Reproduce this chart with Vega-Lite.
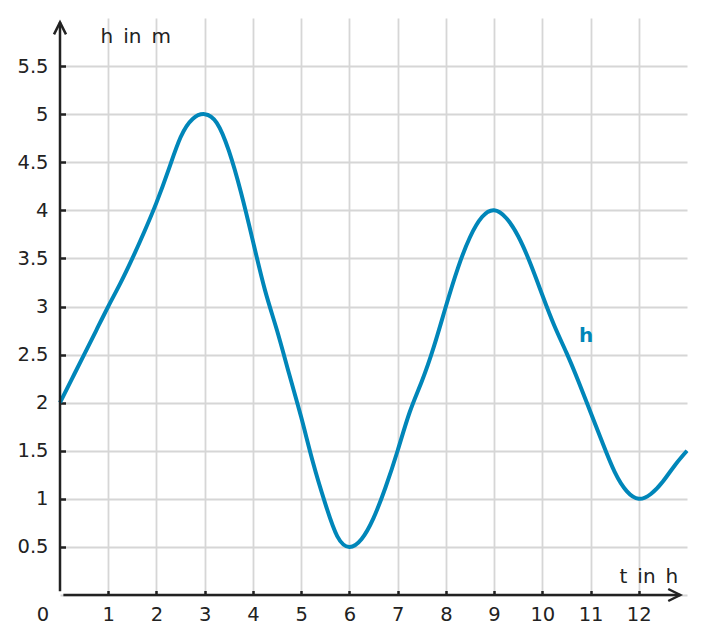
{
  "$schema": "https://vega.github.io/schema/vega-lite/v6.json",
  "width": 627,
  "height": 577,
  "autosize": {"type": "none"},
  "padding": {"left": 60, "top": 18, "right": 17, "bottom": 49},
  "background": "white",
  "config": {
    "view": {"stroke": null},
    "font": "DejaVu Sans"
  },
  "datasets": {
    "curve": [
      {"t": 0, "h": 2.0}, {"t": 0.25, "h": 2.25}, {"t": 0.5, "h": 2.5}, {"t": 0.75, "h": 2.75},
      {"t": 1, "h": 3.0}, {"t": 1.25, "h": 3.24}, {"t": 1.5, "h": 3.5}, {"t": 1.75, "h": 3.78},
      {"t": 2, "h": 4.08}, {"t": 2.25, "h": 4.42}, {"t": 2.5, "h": 4.76}, {"t": 2.75, "h": 4.95},
      {"t": 3, "h": 5.0}, {"t": 3.25, "h": 4.91}, {"t": 3.5, "h": 4.62}, {"t": 3.75, "h": 4.19},
      {"t": 4, "h": 3.68}, {"t": 4.25, "h": 3.17}, {"t": 4.5, "h": 2.75}, {"t": 4.75, "h": 2.3},
      {"t": 5, "h": 1.85}, {"t": 5.25, "h": 1.37}, {"t": 5.5, "h": 0.95}, {"t": 5.75, "h": 0.61},
      {"t": 6, "h": 0.5}, {"t": 6.25, "h": 0.58}, {"t": 6.5, "h": 0.8}, {"t": 6.75, "h": 1.12},
      {"t": 7, "h": 1.5}, {"t": 7.25, "h": 1.9}, {"t": 7.5, "h": 2.22}, {"t": 7.75, "h": 2.58},
      {"t": 8, "h": 3.0}, {"t": 8.25, "h": 3.4}, {"t": 8.5, "h": 3.72}, {"t": 8.75, "h": 3.93},
      {"t": 9, "h": 4.0}, {"t": 9.25, "h": 3.92}, {"t": 9.5, "h": 3.73}, {"t": 9.75, "h": 3.45},
      {"t": 10, "h": 3.12}, {"t": 10.25, "h": 2.8}, {"t": 10.5, "h": 2.52}, {"t": 10.75, "h": 2.22},
      {"t": 11, "h": 1.9}, {"t": 11.25, "h": 1.58}, {"t": 11.5, "h": 1.28}, {"t": 11.75, "h": 1.08},
      {"t": 12, "h": 1.0}, {"t": 12.25, "h": 1.05}, {"t": 12.5, "h": 1.18}, {"t": 12.75, "h": 1.35},
      {"t": 13, "h": 1.5}
    ],
    "axes": [
      {"t": 0.07, "t2": 12.86, "h": 0, "h2": 0},
      {"t": 0, "t2": 0, "h": 0.04, "h2": 5.955}
    ],
    "arrowX": [{"t": 12.86, "h": 0}],
    "arrowY": [{"t": 0, "h": 5.955}],
    "origin": [{"t": 0, "h": 0, "label": "0"}],
    "name": [{"t": 10.91, "h": 2.69, "label": "h"}]
  },
  "encoding": {
    "x": {
      "field": "t", "type": "quantitative",
      "scale": {"domain": [0, 13], "nice": false, "zero": false},
      "axis": {
        "values": [1, 2, 3, 4, 5, 6, 7, 8, 9, 10, 11, 12],
        "format": "d",
        "grid": true, "gridColor": "#d6d6d6", "gridWidth": 1.8,
        "domain": false,
        "ticks": true, "tickSize": -4.5, "tickColor": "#222222", "tickWidth": 2.5,
        "labelFont": "DejaVu Sans", "labelFontSize": 19.5, "labelColor": "#222222",
        "labelPadding": 15, "labelOverlap": false, "labelFlush": false, "labelBound": false,
        "title": "t\u2002in\u2002h", "titleFont": "DejaVu Sans", "titleFontSize": 20, "titleFontWeight": "normal",
        "titleColor": "#222222", "titleAlign": "left", "titleBaseline": "alphabetic",
        "titleX": 559, "titleY": -13
      }
    },
    "y": {
      "field": "h", "type": "quantitative",
      "scale": {"domain": [0, 6], "nice": false, "zero": false},
      "axis": {
        "values": [0, 0.5, 1, 1.5, 2, 2.5, 3, 3.5, 4, 4.5, 5, 5.5],
        "format": "~g",
        "labelExpr": "datum.value == 0 ? '' : datum.label",
        "grid": true, "gridColor": "#d6d6d6", "gridWidth": 1.8,
        "domain": false,
        "ticks": true, "tickSize": -5.5, "tickColor": "#222222", "tickWidth": 2.5,
        "tickOpacity": {"condition": {"test": "datum.value == 0", "value": 0}, "value": 1},
        "labelFont": "DejaVu Sans", "labelFontSize": 19.5, "labelColor": "#222222",
        "labelPadding": 17.5, "labelOverlap": false, "labelBound": false,
        "title": "h\u2002in\u2002m", "titleFont": "DejaVu Sans", "titleFontSize": 20, "titleFontWeight": "normal",
        "titleColor": "#222222", "titleAngle": 0, "titleAlign": "left", "titleBaseline": "alphabetic",
        "titleX": 40, "titleY": 24
      }
    }
  },
  "layer": [
    {
      "data": {"name": "curve"},
      "mark": {"type": "line", "interpolate": "natural", "color": "#0086b9", "strokeWidth": 4, "clip": false}
    },
    {
      "data": {"name": "axes"},
      "mark": {"type": "rule", "color": "#222222", "strokeWidth": 2.5},
      "encoding": {"x2": {"field": "t2"}, "y2": {"field": "h2"}}
    },
    {
      "data": {"name": "arrowX"},
      "mark": {"type": "point", "shape": "M-2,-1L0,0L-2,1", "filled": false, "stroke": "#222222", "strokeWidth": 2.5, "size": 144, "opacity": 1, "strokeJoin": "miter"}
    },
    {
      "data": {"name": "arrowY"},
      "mark": {"type": "point", "shape": "M-1,2L0,0L1,2", "filled": false, "stroke": "#222222", "strokeWidth": 2.5, "size": 144, "opacity": 1, "strokeJoin": "miter"}
    },
    {
      "data": {"name": "origin"},
      "mark": {"type": "text", "font": "DejaVu Sans", "fontSize": 19.5, "color": "#222222", "align": "center", "baseline": "middle", "dx": -17, "dy": 20},
      "encoding": {"text": {"field": "label"}}
    },
    {
      "data": {"name": "name"},
      "mark": {"type": "text", "font": "DejaVu Sans", "fontSize": 20, "fontWeight": "bold", "color": "#0086b9", "align": "center", "baseline": "middle"},
      "encoding": {"text": {"field": "label"}}
    }
  ]
}
